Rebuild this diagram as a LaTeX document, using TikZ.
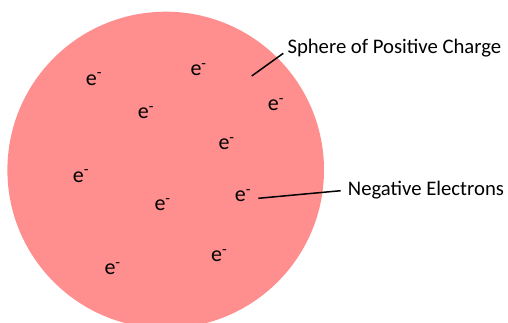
\documentclass[tikz,border=0pt]{standalone}
\usepackage{fontspec}
\setmainfont{Carlito}
\definecolor{sphere}{RGB}{255,143,143}
\begin{document}
\begin{tikzpicture}[x=1pt,y=-1pt,
  elec/.style={inner sep=0pt,anchor=base,font=\fontsize{22}{24}\selectfont},
  lbl/.style={inner sep=0pt,anchor=base west,font=\fontsize{20.7}{24}\selectfont},
  pointer/.style={line width=1.5pt,black}]
\useasboundingbox (0,0) rectangle (508,322);
\fill[sphere] (165.7,170) circle (158.3);
\foreach \n/\x/\y in {1/91.3/79.5,2/196/70,3/143.3/113.3,4/273.3/105,5/224/144,6/78.3/176.7,7/160/205,8/240.3/196.3,9/216.7/256,10/110/269.3}{
  \node[elec] (e\n) at (\x,\y+5.6) {e\rlap{\textsuperscript{-}}};
}
\node[lbl] (sph) at (287.3,53.3) {Sphere of Positive Charge};
\node[lbl] (neg) at (347.7,195) {Negative Electrons};
\coordinate (p1) at (251.7,76);
\coordinate (p2) at (258.3,198.3);
\draw[pointer] (p1) -- ([xshift=-4pt]sph.base west);
\draw[pointer] (p2) -- ([xshift=-7pt,yshift=4.3pt]neg.base west);
\end{tikzpicture}
\end{document}
